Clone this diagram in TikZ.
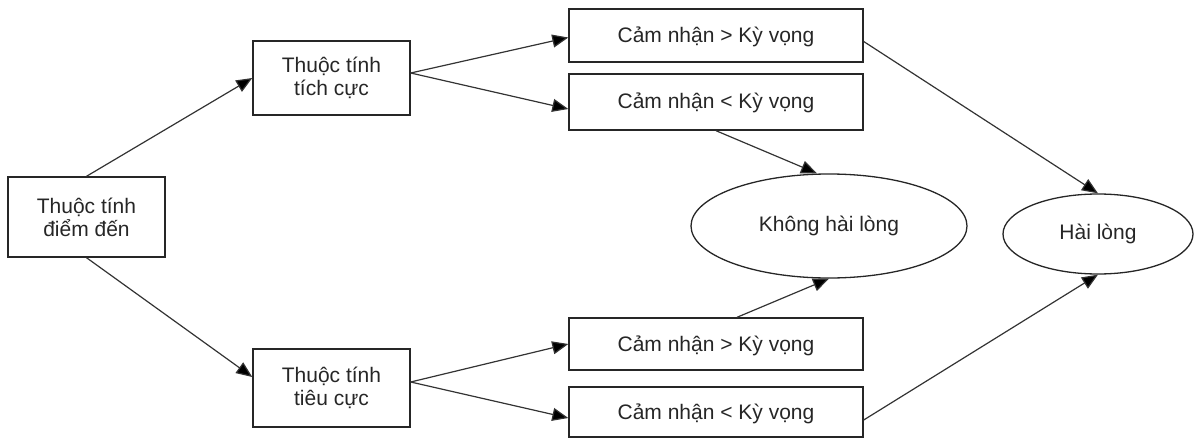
\documentclass[tikz,border=0pt]{standalone}
\usepackage{fontspec}
\setmainfont{Liberation Sans}
\usetikzlibrary{shapes.geometric}
\usetikzlibrary{arrows.meta}
\usetikzlibrary{positioning}
\tikzstyle{box} = [rectangle, draw=black!85, line width=1.4pt, align=center, inner sep=0pt, text=black!85, font=\fontsize{21}{23}\selectfont]
\tikzstyle{oval} = [ellipse, draw=black!85, line width=1.3pt, inner sep=0pt, text=black!85, font=\fontsize{21}{23}\selectfont]
\tikzstyle{arrow} = [line width=1.2pt, draw=black!80, -{Triangle[length=16pt,width=13pt,fill=black]}]
\begin{document}
\begin{tikzpicture}[x=1pt,y=-1pt]

\useasboundingbox (0,0) rectangle (1195,439);

% left side
\node[box, minimum width=157pt, minimum height=80pt] (diemden) at (86.5,217) {Thuộc tính\\điểm đến};
\node[box, minimum width=157pt, minimum height=74pt] (tichcuc) at (331.5,78) {Thuộc tính\\tích cực};
\node[box, minimum width=157pt, minimum height=78pt] (tieucuc) at (331.5,388) {Thuộc tính\\tiêu cực};

% comparison boxes
\node[box, minimum width=294pt, minimum height=53pt, text depth=2pt] (tc1) at (716,35.5) {Cảm nhận > Kỳ vọng};
\node[box, minimum width=294pt, minimum height=56pt, text depth=2pt] (tc2) at (716,102) {Cảm nhận < Kỳ vọng};
\node[box, minimum width=294pt, minimum height=52pt, text depth=1pt] (tu1) at (716,344) {Cảm nhận > Kỳ vọng};
\node[box, minimum width=294pt, minimum height=50pt, text depth=1pt] (tu2) at (716,412) {Cảm nhận < Kỳ vọng};

% outcomes
\node[oval, minimum width=276pt, minimum height=104pt] (khong) at (829,226) {Không hài lòng};
\node[oval, minimum width=190pt, minimum height=80pt] (hailong) at (1098,234) {Hài lòng};

\draw[arrow] (diemden.north) -- (tichcuc.west);
\draw[arrow] (diemden.south) -- ([yshift=11pt]tieucuc.west);

\draw[arrow] ([yshift=5pt]tichcuc.east) -- ([yshift=-2pt]tc1.west);
\draw[arrow] ([yshift=5pt]tichcuc.east) -- ([yshift=-7pt]tc2.west);
\draw[arrow] ([yshift=6pt]tieucuc.east) -- (tu1.west);
\draw[arrow] ([yshift=6pt]tieucuc.east) -- ([yshift=-6pt]tu2.west);

\draw[arrow] (tc2.south) -- ([xshift=-12pt]khong.north);
\draw[arrow] ([xshift=21pt]tu1.north) -- (khong.south);
\draw[arrow] ([yshift=-6pt]tc1.east) -- (hailong.north);
\draw[arrow] ([yshift=-8pt]tu2.east) -- (hailong.south);

\end{tikzpicture}
\end{document}
